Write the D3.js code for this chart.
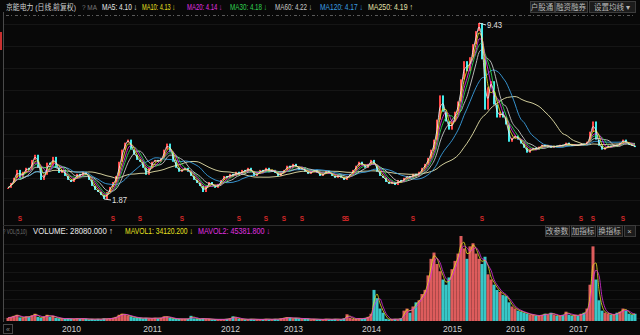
<!DOCTYPE html>
<html>
<head>
<meta charset="utf-8">
<script src="https://cdn.jsdelivr.net/npm/d3@7"></script>
<style>
body { margin: 0; background: #080808; overflow: hidden; }
text { font-family: "Liberation Sans", "Noto Sans CJK SC", sans-serif; }
</style>
</head>
<body>
<div id="main-container"></div>
<script>
var width = 640,
    height = 335

// closing prices, one point per ~9 trading days
var close2009 = [2.35,2.56,2.78,3.12,2.78,3.04,3.21,3.12,3.55,3.77,3.21,2.69,2.91,3.43,3.34,3.68,3.21,2.99,3.12,2.86,2.69,2.60,2.78,2.95,2.86,3.04,2.91,2.69,2.43,2.26,2.17,2.04,1.87,2.17,2.39]
var close2010 = [2.60,2.86,3.47,3.99,4.29,4.42,3.99,3.77,3.55,3.47,3.21,2.91,3.21,3.47,3.55,3.47,3.64,3.99,4.25,3.90,3.47,3.21,3.04,3.12,3.21,3.04,2.86,2.69,2.56,2.43,2.17,2.43,2.60,2.47,2.35,2.52]
var close2012 = [2.69,2.86,2.78,2.95,2.86,3.04,2.91,3.12,3.04,3.21,3.04,2.86,2.95,3.12,3.04,3.21,3.04,3.12,2.99,2.86,2.99,3.12,3.30,3.21,3.38,3.25,3.12,3.21,3.04,2.95,3.04,3.12,2.99,2.86,2.95,3.08,2.99,2.86,2.78,2.91,2.78,2.69,2.86,2.95,3.12,3.30,3.47,3.34,3.21,3.38,3.55,3.34,3.04,2.86,2.78,2.60,2.52,2.60,2.47,2.69,2.60,2.78,2.86,2.78,2.95,2.86,3.04,3.21,3.38,3.64,3.99,4.42,5.28,6.32,5.62,5.20,4.85,5.20,5.62,6.06,7.01,7.79,7.36,7.96,8.52,9.08]
var close2015 = [9.43,7.87,5.71,6.67,6.93,5.93,5.37,5.62,5.37,5.07,4.33,4.50,4.59,4.42,4.25,4.07,3.86,3.99,4.07,3.99,4.12,4.20,4.12,4.16,4.07,4.16,4.12,4.20,4.16,4.29,4.20,4.16,4.20,4.16,4.25,4.20,4.33,4.76,5.20,4.42,4.16,3.99,4.07,4.16,4.12,4.20,4.16,4.29,4.42,4.25,4.20,4.16,4.10]

// volume, thousands
var vol2009 = [12,16,20,24,14,12,18,16,22,28,16,12,18,24,16,20,12,10,10,8,10,8,8,10,8,10,8,6,8,6,8,6,10,8,10]
var vol2010 = [12,16,24,28,24,20,18,14,12,12,10,12,10,10,12,10,12,18,16,12,10,8,8,8,8,8,20,10,8,8,10,8,8,6,6,6]
var vol2012 = [6,6,8,10,18,12,8,8,6,6,8,6,6,6,6,8,6,6,8,6,10,12,14,12,10,12,10,8,10,8,6,8,6,6,6,8,6,6,8,6,6,10,26,12,8,8,10,8,12,16,28,120,88,48,32,8,6,6,8,6,10,40,48,32,56,72,80,104,120,176,240,264,220,192,160,140,168,200,232,260,328,280,240,288,300,260]
var vol2015 = [240,220,248,180,160,140,120,112,100,96,72,56,48,40,36,32,28,24,24,20,20,24,28,24,32,24,20,20,24,36,24,20,24,20,28,32,48,140,288,160,80,40,32,28,24,24,32,36,48,40,28,24,28]

var yearLabels = ["2010","2011","2012","2013","2014","2015","2016","2017"]
var yearIndex = [21,48,74,95,121,148,169,190]
var eventIndex = [4,35,44,58,77,86,92,98,112,113,135,158,178,191,195,205]

var maNames = ["MA5","MA10","MA20","MA30","MA60","MA120","MA250"]
var maValues = ["4.10","4.13","4.14","4.18","4.22","4.17","4.19"]
var maArrows = ["↓","↓","↓","↓","↓","↓","↑"]
var maWindows = [2,3,4,5,7,13,27]   // in chart points
var maColors = ["#e8e8e8","#e6e020","#e030e0","#30d050","#c8c8c8","#3a9ee0","#e4e0a8"]
var maLabelX = [102,142,187,230,275,320,368]
var maLabelW = [35,33,35,37,37,43,45]

var volNames = ["VOLUME","MAVOL1","MAVOL2"]
var volValues = ["28080.000","34120.200","45381.800"]
var volArrows = ["↑","↓","↓"]
var volColors = ["#e8e8e8","#e6e020","#e030e0"]
var volLabelX = [33,125,198]
var volLabelW = [80,68,72]
var volWindows = [2,3]

var closes = [].concat(close2009, close2010, close2012, close2015)
var volumes = [].concat(vol2009, vol2010, vol2012, vol2015)

var svg = d3.select("#main-container").append("svg")
  .attr("width", width)
  .attr("height", height)
  .style("display", "block")

svg.append("rect").attr("width", width).attr("height", height).attr("fill", "#080808")

var x = d3.scaleLinear()
  .domain([0, closes.length - 1])
  .range([8, 635])

var y = d3.scaleLinear()
  .domain(d3.extent(closes))
  .range([199, 23])

var yVol = d3.scaleLinear()
  .domain([0, d3.max(volumes)])
  .range([321, 236])

function movingAvg(arr, w) {
  return arr.map(function(d, i){
    return d3.mean(arr.slice(Math.max(0, i - w + 1), i + 1))
  })
}

// the terminal uses a narrow font: squeeze the text horizontally to width w
function label(x0, y0, w, size, fill, str, family) {
  var t = svg.append("text")
    .attr("font-size", size)
    .attr("fill", fill)
    .text(str)
  if (family) t.attr("font-family", family)
  var k = 1
  if (w) {
    var nat = t.node().getComputedTextLength()
    k = Math.min(1, w / nat)
  }
  t.attr("transform", "translate(" + x0 + "," + y0 + ") scale(" + k + ",1)")
  return t
}

// faint grid
var grid = svg.append("g").attr("stroke", "#151515").attr("stroke-width", 1)
d3.range(24, 212, 22).forEach(function(gy){
  grid.append("line").attr("x1", 4).attr("x2", 640).attr("y1", gy + 0.5).attr("y2", gy + 0.5)
})
d3.range(244, 318, 9.2).forEach(function(gy){
  grid.append("line").attr("x1", 4).attr("x2", 640).attr("y1", Math.round(gy) + 0.5).attr("y2", Math.round(gy) + 0.5)
})

// dotted row under the header
svg.append("line")
  .attr("x1", 6).attr("x2", 636).attr("y1", 15.5).attr("y2", 15.5)
  .attr("stroke", "#5a5a5a").attr("stroke-dasharray", "3,2,1,3")

// frame
svg.append("line").attr("x1", 3.5).attr("x2", 3.5).attr("y1", 12).attr("y2", 322).attr("stroke", "#4a4a4a")
svg.append("rect").attr("x", 0).attr("y", 32).attr("width", 2).attr("height", 18).attr("fill", "#c83030")
svg.append("line").attr("x1", 3).attr("x2", 640).attr("y1", 225.5).attr("y2", 225.5).attr("stroke", "#2e2e2e")

// candles (open = previous close)
var upCol = "#ff4646", downCol = "#40ecec"
svg.append("g").selectAll("rect")
  .data(closes)
  .enter()
  .append("rect")
  .attr("x", function(d, i){ return x(i) - 1 })
  .attr("width", 2)
  .attr("y", function(d, i){ return y(Math.max(d, closes[Math.max(0, i - 1)])) })
  .attr("height", function(d, i){ return Math.max(1, Math.abs(y(d) - y(closes[Math.max(0, i - 1)]))) })
  .attr("fill", function(d, i){ return d >= closes[Math.max(0, i - 1)] ? upCol : downCol })

// moving averages, longest first
var line = d3.line()
  .x(function(d, i){ return x(i) })
  .y(function(d){ return y(d) })
  .curve(d3.curveMonotoneX)

d3.range(maWindows.length - 1, -1, -1).forEach(function(k){
  svg.append("path")
    .datum(movingAvg(closes, maWindows[k]))
    .attr("d", line)
    .attr("fill", "none")
    .attr("stroke", maColors[k])
    .attr("stroke-width", 1)
    .attr("opacity", 0.9)
})

// high / low annotations
var iMax = d3.maxIndex(closes), iMin = d3.minIndex(closes)
svg.append("line")
  .attr("x1", x(iMax)).attr("y1", y(closes[iMax]))
  .attr("x2", x(iMax) + 7).attr("y2", y(closes[iMax]) + 2)
  .attr("stroke", "#ddd")
label(x(iMax) + 8, y(closes[iMax]) + 5, 15, 8.5, "#e0e0e0", d3.format(".2f")(closes[iMax]))
svg.append("line")
  .attr("x1", x(iMin)).attr("y1", y(closes[iMin]))
  .attr("x2", x(iMin) + 7).attr("y2", y(closes[iMin]) + 1)
  .attr("stroke", "#ddd")
label(x(iMin) + 8, y(closes[iMin]) + 4, 15, 8.5, "#e0e0e0", d3.format(".2f")(closes[iMin]))

// event marks
svg.append("g").selectAll("text")
  .data(eventIndex)
  .enter()
  .append("text")
  .attr("x", function(d){ return x(d) })
  .attr("y", 221)
  .attr("text-anchor", "middle")
  .attr("font-size", 6.5)
  .attr("font-weight", "bold")
  .attr("fill", "#d42828")
  .text("S")

// volume bars
svg.append("g").selectAll("rect")
  .data(volumes)
  .enter()
  .append("rect")
  .attr("x", function(d, i){ return x(i) - 1.5 })
  .attr("width", 3)
  .attr("y", function(d){ return yVol(d) })
  .attr("height", function(d){ return yVol(0) - yVol(d) })
  .attr("fill", function(d, i){ return closes[i] >= closes[Math.max(0, i - 1)] ? "#f06464" : "#3cd8d8" })
  .attr("opacity", 0.92)

var volLine = d3.line()
  .x(function(d, i){ return x(i) })
  .y(function(d){ return yVol(d) })
  .curve(d3.curveMonotoneX)

volWindows.forEach(function(w, k){
  svg.append("path")
    .datum(movingAvg(volumes, w))
    .attr("d", volLine)
    .attr("fill", "none")
    .attr("stroke", volColors[k + 1])
    .attr("stroke-width", 0.8)
})

// x axis
var xAxis = d3.axisBottom(x)
  .tickValues(yearIndex)
  .tickFormat(function(d, i){ return yearLabels[i] })
  .tickSize(0)
var axisG = svg.append("g").attr("transform", "translate(0,323)").call(xAxis)
axisG.select(".domain").remove()
axisG.selectAll("text")
  .attr("fill", "#cfcfcf")
  .attr("font-size", 8.5)
  .attr("font-family", "Liberation Sans, sans-serif")
  .attr("dy", "0.75em")

svg.append("rect").attr("x", 3.5).attr("y", 324.5).attr("width", 9).attr("height", 9)
  .attr("fill", "none").attr("stroke", "#4a4a4a")
svg.append("text").attr("x", 8).attr("y", 331.5).attr("text-anchor", "middle")
  .attr("font-size", 7).attr("fill", "#888").text("«")

// header
label(6, 10, 70, 8, "#d0d0d0", "京能电力 (日线,前复权)", "Noto Sans CJK SC, sans-serif")
label(82, 10, 15, 7.5, "#777", "? MA")
maNames.forEach(function(n, i){
  label(maLabelX[i], 10, maLabelW[i], 8.5, maColors[i], n + ": " + maValues[i] + " " + maArrows[i])
})

label(3, 234, 24, 7.5, "#777", "? VOL(5,10)")
volNames.forEach(function(n, i){
  label(volLabelX[i], 234, volLabelW[i], 8.5, volColors[i], n + ": " + volValues[i] + " " + volArrows[i])
})

function buttons(labels, xs, widths, y0) {
  labels.forEach(function(t, i){
    svg.append("rect")
      .attr("x", xs[i] + 0.5).attr("y", y0 + 0.5)
      .attr("width", widths[i]).attr("height", 11)
      .attr("fill", "#1c1c1c").attr("stroke", "#3c3c3c")
    svg.append("text")
      .attr("x", xs[i] + widths[i] / 2).attr("y", y0 + 8.5)
      .attr("text-anchor", "middle")
      .attr("font-family", "Noto Sans CJK SC, sans-serif")
      .attr("font-size", 7.5).attr("fill", "#b8b8b8")
      .text(t)
  })
}
buttons(["户股通", "融资融券", "设置均线 ▾"], [530, 555, 589], [24, 32, 46], 1)
buttons(["改参数", "加指标", "换指标", "×"], [545, 571, 597, 624], [24, 24, 25, 11], 225)
</script>
</body>
</html>
